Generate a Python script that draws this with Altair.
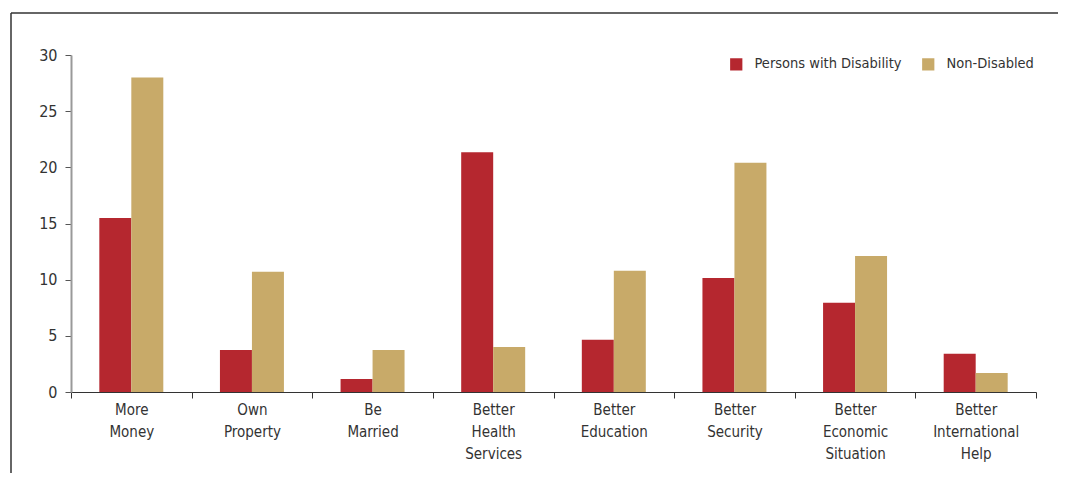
import altair as alt
import pandas as pd

categories = ["More\nMoney", "Own\nProperty", "Be\nMarried", "Better\nHealth\nServices",
              "Better\nEducation", "Better\nSecurity", "Better\nEconomic\nSituation",
              "Better\nInternational\nHelp"]
disabled = [15.5, 3.75, 1.15, 21.35, 4.65, 10.15, 7.95, 3.4]
non_disabled = [28.0, 10.7, 3.75, 4.0, 10.8, 20.4, 12.1, 1.7]
series = ["Persons with Disability", "Non-Disabled"]
colors = ["#B5272F", "#C8AA69"]
y_ticks = [0, 5, 10, 15, 20, 25, 30]

rows = []
for c, a, b in zip(categories, disabled, non_disabled):
    rows.append({"cat": c, "series": series[0], "value": a})
    rows.append({"cat": c, "series": series[1], "value": b})
df = pd.DataFrame(rows)

FONT = "DejaVu Sans Condensed, Roboto, sans-serif"
W, H = 965, 337

bars = alt.Chart(df).mark_bar().encode(
    x=alt.X("cat:N", sort=categories, title=None,
            scale=alt.Scale(paddingInner=0, paddingOuter=0, round=False),
            axis=alt.Axis(labelAngle=0, labelExpr="split(datum.label, '\\n')",
                          tickBand="extent", tickSize=6, tickColor="#333",
                          domainColor="#333", labelFont=FONT, labelFontSize=15,
                          labelColor="#333", labelPadding=4, labelLineHeight=22,
                          labelBaseline="top")),
    xOffset=alt.XOffset("series:N", sort=series,
                        scale=alt.Scale(paddingInner=0, paddingOuter=0.885, round=False)),
    y=alt.Y("value:Q", title=None,
            scale=alt.Scale(domain=[0, 30], nice=False),
            axis=alt.Axis(values=y_ticks, grid=False, tickSize=6, tickColor="#555",
                          domainColor="#999", domainWidth=2, labelFont=FONT,
                          labelFontSize=16, labelColor="#333", labelPadding=8,
                          offset=0)),
    color=alt.Color("series:N", sort=series,
                    scale=alt.Scale(domain=series, range=colors),
                    legend=alt.Legend(title=None, orient="none", legendX=658, legendY=2,
                                      direction="horizontal", symbolType="square",
                                      symbolSize=150, symbolStrokeWidth=0,
                                      labelFont=FONT, labelFontSize=14.5,
                                      labelColor="#333", columnPadding=19,
                                      labelOffset=11)),
)

frame_top = alt.Chart(pd.DataFrame({"k": [0]})).mark_rule(color="#333", strokeWidth=1.5).encode(
    x=alt.value(-60), x2=alt.value(1100), y=alt.value(-42))
frame_left = alt.Chart(pd.DataFrame({"k": [0]})).mark_rule(color="#333", strokeWidth=1.5).encode(
    x=alt.value(-60), y=alt.value(-42), y2=alt.value(500))

chart = alt.layer(frame_top, frame_left, bars).properties(
    width=W, height=H,
    autosize=alt.AutoSizeParams(type="none"),
    padding={"left": 63, "top": 47, "right": 22, "bottom": 81},
).configure(background="white").configure_view(stroke=None)

chart.save("out.html", embed_options={"renderer": "svg", "actions": False})
